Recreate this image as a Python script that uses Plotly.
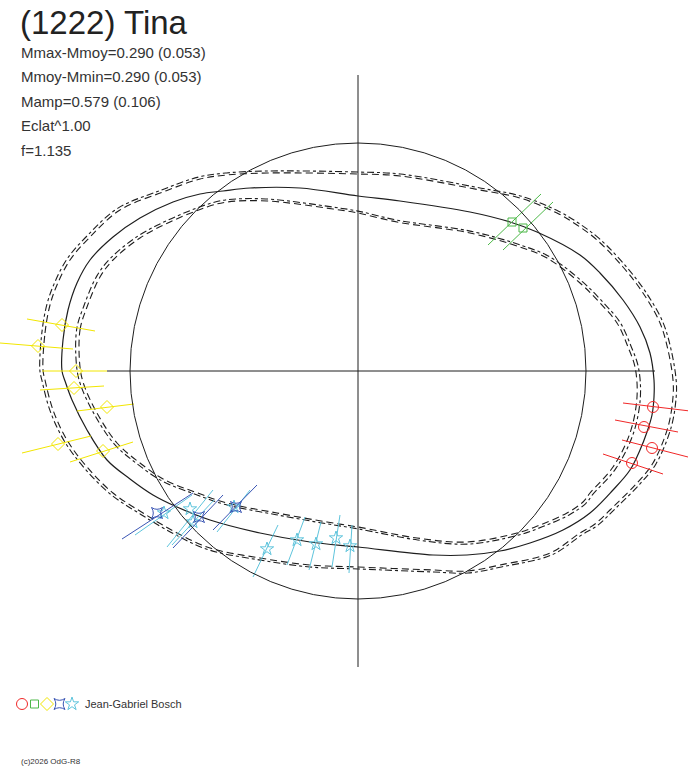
import plotly.graph_objects as go

# ---- canvas (pixel-like units, origin at profile centre, y up) ----
W, H = 688, 768
CX, CY = 358, 371

# ---- text ----
title = "(1222) Tina"
info_lines = ["Mmax-Mmoy=0.290 (0.053)", "Mmoy-Mmin=0.290 (0.053)",
              "Mamp=0.579 (0.106)", "Eclat^1.00", "f=1.135"]
observer = "Jean-Gabriel Bosch"
credit = "(c)2026 OdG-R8"

# ---- reference circle and axes (data units) ----
circle_r = 228
axis_x_extent = [-251, 297]
axis_y_extent = [-296, 296]

# ---- model profile (mean), outer (Mmax) and inner (Mmin) contours ----
mean_x = [-296, -295, -290, -281, -268, -245, -218, -185, -158, -135, -108, -58, 0, 42,
          112, 152, 179, 222, 242, 265, 282, 292, 296, 296, 294, 289, 282, 272, 255,
          232, 205, 172, 142, 109, 75, 0, -48, -98, -148, -181, -205, -228, -251,
          -271, -286, -293]
mean_y = [0, 31, 61, 88, 111, 134, 153, 169, 177, 180, 183, 183, 175, 170,
          159, 149, 139, 116, 98, 71, 44, 18, -9, -26, -44, -61, -79, -99, -119,
          -142, -159, -172, -180, -184, -184, -176, -171, -162, -149, -136, -124, -108, -89,
          -59, -29, -10]

outer_x = [-315, -313, -308, -301, -288, -268, -238, -195, -158, -131, -91, 0, 42,
           122, 162, 199, 219, 239, 265, 285, 302, 310, 315, 315, 310, 295, 279, 255,
           237, 222, 192, 142, 109, 75, 0, -48, -98, -148, -181, -215, -245, -271,
           -291, -305, -313]
outer_y = [1, 38, 66, 86, 111, 134, 161, 179, 192, 196, 198, 197, 195,
           181, 173, 158, 146, 131, 104, 78, 48, 21, -9, -26, -56, -92, -112, -136,
           -153, -162, -182, -194, -200, -199, -196, -194, -187, -177, -162, -142, -122, -96,
           -69, -39, -9]

inner_x = [-278, -278, -271, -258, -245, -218, -188, -151, -131, -91, -25, 0, 39,
           112, 162, 189, 222, 242, 259, 270, 277, 279, 272, 255, 232, 225, 209, 182,
           159, 109, 59, 0, -31, -81, -131, -163, -193, -218, -241, -261, -274]
inner_y = [4, 41, 64, 94, 111, 133, 149, 164, 169, 170, 162, 158, 149,
           138, 124, 113, 88, 68, 48, 24, 4, -26, -62, -96, -122, -131, -142, -154,
           -162, -171, -167, -156, -151, -142, -132, -121, -109, -92, -72, -42, -14]

# ---- chords per observer: segment ends and event marker (data units) ----
red_x0 = [265, 257, 264, 245];  red_y0 = [-32, -49, -69, -83]
red_x1 = [332, 320, 330, 305];  red_y1 = [-40, -61, -86, -103]
red_mx = [295, 286, 294, 274];  red_my = [-36, -56, -77, -92]

grn_x0 = [130, 145];  grn_y0 = [126, 121]
grn_x1 = [183, 195];  grn_y1 = [177, 169]
grn_mx = [154, 165];  grn_my = [149, 143]

yel_x0 = [-331, -358, -316, -318, -281, -336, -288]
yel_y0 = [52, 28, 0, -19, -40, -82, -91]
yel_x1 = [-263, -285, -251, -254, -224, -267, -225]
yel_y1 = [40, 22, 0, -15, -33, -65, -71]
yel_mx = [-296, -320, -282, -284, -251, -300, -255]
yel_my = [46, 25, 0, -17, -36, -73, -80]

blu_x0 = [-236, -185, -145];  blu_y0 = [-168, -177, -159]
blu_x1 = [-165, -135, -101];  blu_y1 = [-122, -124, -114]
blu_mx = [-201, -159, -122];  blu_my = [-142, -146, -136]

cya_x0 = [-223, -191, -186, -141, -105, -71, -49, -26, -9]
cya_y0 = [-164, -176, -174, -161, -206, -194, -199, -196, -202]
cya_x1 = [-166, -145, -144, -108, -80, -53, -37, -18, -6]
cya_y1 = [-124, -119, -129, -119, -154, -146, -151, -144, -154]
cya_mx = [-194, -168, -165, -124, -91, -61, -42, -22, -8]
cya_my = [-142, -138, -151, -136, -178, -169, -173, -167, -175]

INK = "#1e1e1e"
RED, GRN, YEL, BLU, CYA = "#f02828", "#4cb848", "#f2e600", "#3a55b4", "#5ec4dc"

fig = go.Figure()


def closed(xs, ys):
    return list(xs) + [xs[0]], list(ys) + [ys[0]]


def curve(xs, ys, dash, width=1.1, scale=1.0):
    cx, cy = closed(xs, ys)
    fig.add_trace(go.Scatter(x=[v * scale for v in cx], y=[v * scale for v in cy],
                             mode="lines", line=dict(color=INK, width=width, dash=dash,
                                                     shape="spline", smoothing=1.0),
                             hoverinfo="skip", showlegend=False))


def chords(x0, y0, x1, y1, mx, my, color, symbol, size):
    lx, ly = [], []
    for a, b, c, d in zip(x0, y0, x1, y1):
        lx += [a, c, None]
        ly += [b, d, None]
    fig.add_trace(go.Scatter(x=lx, y=ly, mode="lines", line=dict(color=color, width=1),
                             hoverinfo="skip", showlegend=False))
    fig.add_trace(go.Scatter(x=mx, y=my, mode="markers",
                             marker=dict(symbol=symbol, size=size, color=color,
                                         line=dict(color=color, width=1)),
                             hoverinfo="skip", showlegend=False))


# axes through centre
fig.add_trace(go.Scatter(x=axis_x_extent, y=[0, 0], mode="lines",
                         line=dict(color=INK, width=1), hoverinfo="skip", showlegend=False))
fig.add_trace(go.Scatter(x=[0, 0], y=axis_y_extent, mode="lines",
                         line=dict(color=INK, width=1), hoverinfo="skip", showlegend=False))

# reference circle
fig.add_shape(type="circle", xref="x", yref="y", x0=-circle_r, y0=-circle_r,
              x1=circle_r, y1=circle_r, line=dict(color=INK, width=1))

# profiles
curve(mean_x, mean_y, "solid", width=1.2)
curve(outer_x, outer_y, "7px,4px")
curve(outer_x, outer_y, "3px,3px,7px,3px", scale=1.01)
curve(inner_x, inner_y, "7px,4px")
curve(inner_x, inner_y, "3px,3px,7px,3px", scale=1.012)

# chords
chords(red_x0, red_y0, red_x1, red_y1, red_mx, red_my, RED, "circle-open", 11)
chords(grn_x0, grn_y0, grn_x1, grn_y1, grn_mx, grn_my, GRN, "square-open", 8)
chords(yel_x0, yel_y0, yel_x1, yel_y1, yel_mx, yel_my, YEL, "diamond-open", 10)
chords(cya_x0, cya_y0, cya_x1, cya_y1, cya_mx, cya_my, CYA, "star-open", 10)
chords(blu_x0, blu_y0, blu_x1, blu_y1, blu_mx, blu_my, BLU, "star-square-open", 10)


def px(xp, yp):
    return xp - CX, CY - yp


# legend symbols row
leg_syms = [("circle-open", RED, 11), ("square-open", GRN, 8), ("diamond-open", YEL, 10),
            ("star-square-open", BLU, 10), ("star-open", CYA, 10)]
for i, (sym, col, sz) in enumerate(leg_syms):
    lx, ly = px(22 + 12.5 * i, 704)
    fig.add_trace(go.Scatter(x=[lx], y=[ly], mode="markers",
                             marker=dict(symbol=sym, size=sz, color=col,
                                         line=dict(color=col, width=1)),
                             hoverinfo="skip", showlegend=False))

FONT = "Liberation Sans, Arial, sans-serif"
ann = []
tx, ty = px(18, 22)
ann.append(dict(x=tx, y=ty, text=title, font=dict(size=33, color="#222222", family=FONT)))
for i, t in enumerate(info_lines):
    tx, ty = px(19, 52 + 24.6 * i)
    ann.append(dict(x=tx, y=ty, text=t, font=dict(size=15, color="#333333", family=FONT)))
tx, ty = px(83, 704)
ann.append(dict(x=tx, y=ty, text=observer, font=dict(size=11, color="#333333", family=FONT)))
tx, ty = px(19, 761)
ann.append(dict(x=tx, y=ty, text=credit, font=dict(size=8, color="#333333", family=FONT)))
for a in ann:
    a.update(xref="x", yref="y", xanchor="left", yanchor="middle", showarrow=False)

fig.update_layout(
    width=W, height=H, margin=dict(l=0, r=0, t=0, b=0, pad=0),
    paper_bgcolor="white", plot_bgcolor="white", annotations=ann,
    xaxis=dict(range=[-CX, W - CX], visible=False, fixedrange=True),
    yaxis=dict(range=[CY - H, CY], visible=False, fixedrange=True),
)

fig.write_html("out.html", config={"displayModeBar": False},
               post_script="document.body.style.margin='0';document.body.style.padding='0';")
